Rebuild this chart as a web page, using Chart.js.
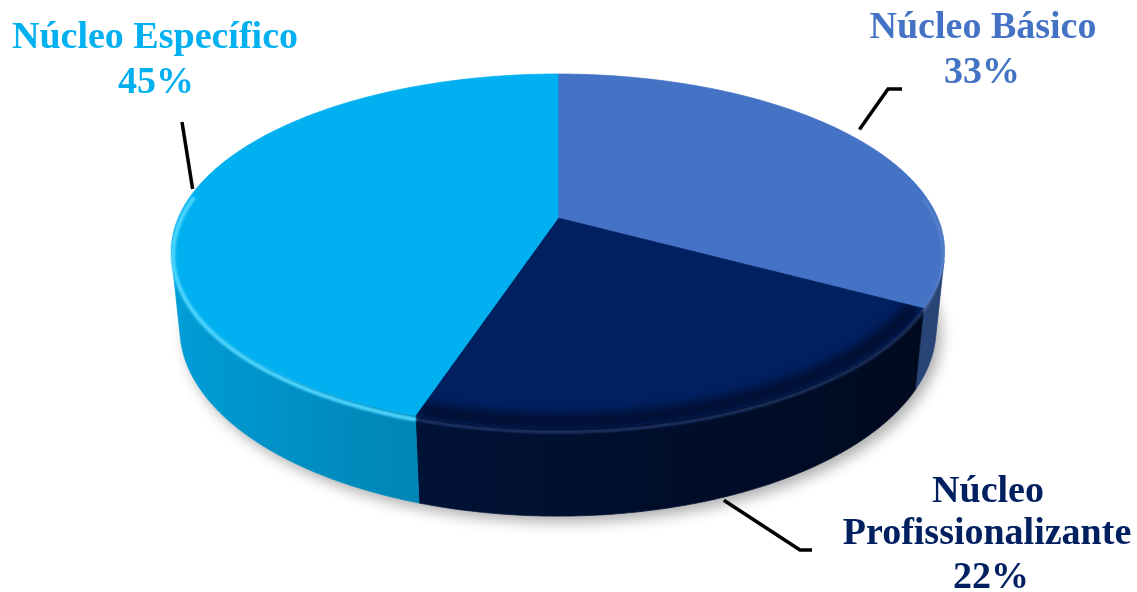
<!DOCTYPE html>
<html>
<head>
<meta charset="utf-8">
<script src="https://cdn.jsdelivr.net/npm/chart.js@4.4.1/dist/chart.umd.min.js"></script>
<style>
  html, body { margin: 0; padding: 0; background: #ffffff; }
  #wrap { width: 1137px; height: 592px; }
</style>
</head>
<body>
<div id="wrap"><canvas id="c" width="1137" height="592"></canvas></div>
<script>
// ---- data ----
const categories = ['Núcleo Básico', 'Núcleo Profissionalizante', 'Núcleo Específico'];
const values = [33, 22, 45];
const percentLabels = ['33%', '22%', '45%'];
const sliceColors = ['#4472C4', '#002060', '#00B0F0'];
const labelColors = ['#4472C4', '#002060', '#00B0F0'];
const wallBase = [0.80, 0.50, 0.69];   // wall brightness per slice
const wallSlope = [0.22, 0.20, 0.22];

// ---- 3D projection settings ----
const TILT_S = 0.45, TILT_C = Math.sqrt(1 - TILT_S * TILT_S);
const CAM_D = 4.78, FOCAL_K = 1815 / 218, DEPTH = 0.23;

function hexToRgb(h) {
  const n = parseInt(h.slice(1), 16);
  return [(n >> 16) & 255, (n >> 8) & 255, n & 255];
}
function shade(h, f) {
  const [r, g, b] = hexToRgb(h);
  return `rgb(${Math.round(r * f)},${Math.round(g * f)},${Math.round(b * f)})`;
}

function makeProj(cx, cy, R) {
  const F = FOCAL_K * R;
  return function (th, Y, r = 1) {
    const X = r * Math.cos(th), Z = -r * Math.sin(th);
    const yc = Y * TILT_C + Z * TILT_S;
    const zc = -Y * TILT_S + Z * TILT_C + CAM_D;
    return [cx + F * X / zc, cy - F * yc / zc];
  };
}

function frontFacing(P, ta, tb, H) {
  const pts = [P(ta, 0), P(tb, 0), P(tb, H), P(ta, H)];
  let area = 0;
  for (let j = 0; j < 4; j++) {
    const p = pts[j], q = pts[(j + 1) % 4];
    area += p[0] * q[1] - q[0] * p[1];
  }
  return area < 0;
}

const pie3d = {
  id: 'pie3d',
  beforeDatasetsDraw(chart) {
    const meta = chart.getDatasetMeta(0);
    const ctx = chart.ctx;
    const a0 = meta.data[0];
    const P = makeProj(a0.x, a0.y, a0.outerRadius);
    const H = -DEPTH;
    const step = Math.PI / 360;

    // soft shadow under the disc
    ctx.save();
    ctx.beginPath();
    for (let a = 0; a <= Math.PI * 2 + 1e-6; a += step * 2) {
      const p = P(a, H);
      if (a === 0) ctx.moveTo(p[0], p[1]); else ctx.lineTo(p[0], p[1]);
    }
    ctx.closePath();
    ctx.shadowColor = 'rgba(0,0,0,0.32)';
    ctx.shadowBlur = 14;
    ctx.shadowOffsetX = 5;
    ctx.shadowOffsetY = 6;
    ctx.fillStyle = '#ffffff';
    ctx.fill();
    ctx.restore();

    // outer walls (visible part of each slice, horizontal gradient)
    meta.data.forEach((arc, i) => {
      const col = sliceColors[i];
      const s0 = arc.startAngle, s1 = arc.endAngle;
      const n = Math.max(2, Math.ceil((s1 - s0) / step));
      const vis = [];
      for (let k = 0; k <= n; k++) {
        const t = s0 + (s1 - s0) * k / n;
        if (frontFacing(P, t - 0.001, t + 0.001, H)) vis.push(t);
      }
      if (vis.length < 2) return;
      const top = vis.map(t => P(t, 0));
      const bot = vis.map(t => P(t, H));
      ctx.beginPath();
      ctx.moveTo(top[0][0], top[0][1]);
      for (let k = 1; k < top.length; k++) ctx.lineTo(top[k][0], top[k][1]);
      for (let k = bot.length - 1; k >= 0; k--) ctx.lineTo(bot[k][0], bot[k][1]);
      ctx.closePath();
      const xs = top.map(p => p[0]);
      const xmin = Math.min(...xs), xmax = Math.max(...xs);
      const g = ctx.createLinearGradient(xmin, 0, xmax, 0);
      const m = 12;
      for (let k = 0; k <= m; k++) {
        const idx = Math.round((vis.length - 1) * k / m);
        const t = vis[idx];
        const x = top[idx][0];
        const f = wallBase[i] - wallSlope[i] * Math.cos(t);
        g.addColorStop(Math.min(1, Math.max(0, (x - xmin) / Math.max(1, xmax - xmin))), shade(col, f));
      }
      ctx.fillStyle = g;
      ctx.fill();
      ctx.strokeStyle = g;
      ctx.lineWidth = 0.8;
      ctx.stroke();
    });

    // top faces
    meta.data.forEach((arc, i) => {
      const s0 = arc.startAngle, s1 = arc.endAngle;
      const n = Math.max(2, Math.ceil((s1 - s0) / step));
      const c0 = P(0, 0, 0);
      ctx.beginPath();
      ctx.moveTo(c0[0], c0[1]);
      for (let k = 0; k <= n; k++) {
        const p = P(s0 + (s1 - s0) * k / n, 0);
        ctx.lineTo(p[0], p[1]);
      }
      ctx.closePath();
      ctx.fillStyle = sliceColors[i];
      ctx.strokeStyle = sliceColors[i];
      ctx.lineWidth = 0.8;
      ctx.fill(); ctx.stroke();

      // rim shading, clipped to this slice's top face
      ctx.save();
      ctx.clip();
      if (i === 1) {
        ctx.filter = 'blur(5px)';
        ctx.beginPath();
        let started = false;
        for (let k = 0; k <= n; k++) {
          const t = s0 + (s1 - s0) * k / n;
          if (Math.sin(t) < -0.2) { started = false; continue; }
          const p = P(t, 0, 0.975);
          if (!started) { ctx.moveTo(p[0], p[1]); started = true; } else ctx.lineTo(p[0], p[1]);
        }
        ctx.strokeStyle = 'rgba(0,10,35,0.75)';
        ctx.lineWidth = 16;
        ctx.stroke();
      }
      ctx.restore();
    });

    // bevel highlight along the top rim
    const hl = ['rgba(120,150,215,0.55)', 'rgba(60,90,160,0.7)', 'rgba(80,215,255,1)'];
    const hw = [2, 2, 4];
    meta.data.forEach((arc, i) => {
      const s0 = arc.startAngle, s1 = arc.endAngle;
      const n = Math.max(2, Math.ceil((s1 - s0) / step));
      ctx.save();
      ctx.filter = 'blur(1.3px)';
      ctx.beginPath();
      let started = false;
      for (let k = 0; k <= n; k++) {
        const t = s0 + (s1 - s0) * k / n;
        if (Math.sin(t) < -0.15) { started = false; continue; }
        const p = P(t, -0.012, 0.997);
        if (!started) { ctx.moveTo(p[0], p[1]); started = true; } else ctx.lineTo(p[0], p[1]);
      }
      ctx.strokeStyle = hl[i];
      ctx.lineWidth = hw[i];
      ctx.stroke();
      ctx.restore();
    });
    return false;
  },
  afterDraw(chart) {
    const meta = chart.getDatasetMeta(0);
    const ctx = chart.ctx;
    const a0 = meta.data[0];
    const P = makeProj(a0.x, a0.y, a0.outerRadius);
    const mid = meta.data.map(a => (a.startAngle + a.endAngle) / 2);

    ctx.save();
    ctx.strokeStyle = '#000000';
    ctx.lineWidth = 3.5;
    ctx.lineCap = 'butt';
    ctx.lineJoin = 'miter';
    // Básico leader
    let p = P(mid[0], 0, 1.0);
    ctx.beginPath();
    ctx.moveTo(p[0] + 3, p[1] - 9);
    ctx.lineTo(888, 89);
    ctx.lineTo(902, 89);
    ctx.stroke();
    // Profissionalizante leader
    p = P(mid[1], -DEPTH, 1.0);
    ctx.beginPath();
    ctx.moveTo(p[0] + 1, p[1] + 3);
    ctx.lineTo(800, 550);
    ctx.lineTo(812, 550);
    ctx.stroke();
    // Específico leader
    p = P(mid[2], 0, 1.0);
    ctx.beginPath();
    ctx.moveTo(p[0] - 1, p[1] - 3);
    ctx.lineTo(182, 122);
    ctx.stroke();

    ctx.font = 'bold 38px "Liberation Serif", "Times New Roman", serif';
    ctx.textAlign = 'center';
    ctx.textBaseline = 'alphabetic';
    // Básico
    ctx.fillStyle = labelColors[0];
    ctx.fillText(categories[0], 983, 38);
    ctx.fillText(percentLabels[0], 982, 83);
    // Profissionalizante
    ctx.fillStyle = labelColors[1];
    const pw = categories[1].split(' ');
    ctx.fillText(pw[0], 988, 502);
    ctx.fillText(pw[1], 987, 544);
    ctx.fillText(percentLabels[1], 991, 588);
    // Específico
    ctx.fillStyle = labelColors[2];
    ctx.fillText(categories[2], 155, 48);
    ctx.fillText(percentLabels[2], 156, 93);
    ctx.restore();
  }
};

new Chart(document.getElementById('c'), {
  type: 'pie',
  data: {
    labels: categories,
    datasets: [{ data: values, backgroundColor: sliceColors, borderWidth: 0 }]
  },
  options: {
    responsive: false,
    animation: false,
    devicePixelRatio: 1,
    layout: { padding: { left: 0, right: 21, top: 0, bottom: 156 } },
    plugins: { legend: { display: false }, tooltip: { enabled: false } }
  },
  plugins: [pie3d]
});
</script>
</body>
</html>
